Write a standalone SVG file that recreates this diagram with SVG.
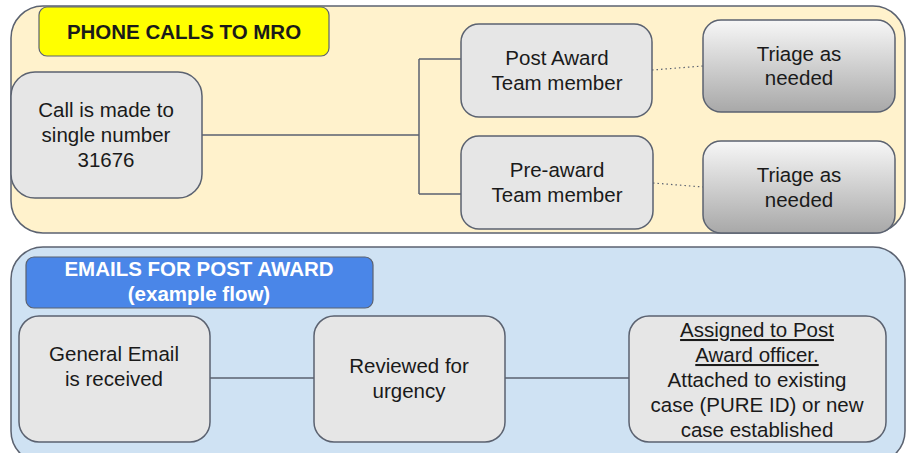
<svg xmlns="http://www.w3.org/2000/svg" width="906" height="453" viewBox="0 0 906 453">
<style>
text{font-family:"Liberation Sans",Arial,sans-serif;font-size:20.5px;fill:#1a1a1a;text-anchor:middle}
.b{font-weight:bold}
.w{fill:#ffffff}
.box{fill:#e6e6e6;stroke:#5b6270;stroke-width:1.5}
.tri{fill:url(#g);stroke:#5b6270;stroke-width:1.5}
.ln{fill:none;stroke:#5b6270;stroke-width:1.5}
.dot{fill:none;stroke:#5b6270;stroke-width:1.2;stroke-dasharray:1.5 3}
.u{text-decoration:underline}
</style>
<defs>
<linearGradient id="g" x1="0" y1="0" x2="0" y2="1">
<stop offset="0" stop-color="#f7f7f7"/>
<stop offset="1" stop-color="#a8a8a8"/>
</linearGradient>
</defs>
<rect width="906" height="453" fill="#ffffff"/>
<g id="phone-section">
<rect x="11" y="6" width="894" height="227" rx="32" fill="#fff2cc" stroke="#5b6270" stroke-width="1.5"/>
</g>
<g id="email-section">
<rect x="11" y="247" width="894" height="216" rx="32" fill="#cfe2f3" stroke="#5b6270" stroke-width="1.5"/>
</g>
<g id="connectors">
<path class="ln" d="M202 135 H419 M419 59 V194 M419 59 H461 M419 194 H461"/>
<path class="dot" d="M652 70 L703 66"/>
<path class="dot" d="M653 183 L703 187"/>
<path class="ln" d="M210 378 H314 M505 378 H629"/>
</g>
<g id="phone-title">
<rect x="39" y="7" width="290" height="49" rx="8" fill="#ffff00" stroke="#5b6270" stroke-width="1.2"/>
<text class="b" x="184" y="39">PHONE CALLS TO MRO</text>
</g>
<g id="call">
<rect class="box" x="11" y="72" width="191" height="126" rx="24"/>
<text x="106" y="117">Call is made to</text>
<text x="106" y="142">single number</text>
<text x="106" y="167">31676</text>
</g>
<g id="post-award">
<rect class="box" x="461" y="24" width="191" height="93" rx="18"/>
<text x="557" y="65">Post Award</text>
<text x="557" y="90">Team member</text>
</g>
<g id="pre-award">
<rect class="box" x="461" y="136" width="192" height="93" rx="18"/>
<text x="557" y="177">Pre-award</text>
<text x="557" y="202">Team member</text>
</g>
<g id="triage-1">
<rect class="tri" x="703" y="20" width="192" height="92" rx="18"/>
<text x="799" y="61">Triage as</text>
<text x="799" y="85">needed</text>
</g>
<g id="triage-2">
<rect class="tri" x="703" y="141" width="192" height="92" rx="18"/>
<text x="799" y="182">Triage as</text>
<text x="799" y="207">needed</text>
</g>
<g id="email-title">
<rect x="26" y="257" width="347" height="51" rx="8" fill="#4a86e8" stroke="#5b6270" stroke-width="1.2"/>
<text class="b w" x="199" y="276">EMAILS FOR POST AWARD</text>
<text class="b w" x="199" y="301">(example flow)</text>
</g>
<g id="general-email">
<rect class="box" x="19" y="316" width="191" height="126" rx="20"/>
<text x="114" y="361">General Email</text>
<text x="114" y="386">is received</text>
</g>
<g id="reviewed">
<rect class="box" x="314" y="316" width="191" height="126" rx="20"/>
<text x="409" y="373">Reviewed for</text>
<text x="409" y="398">urgency</text>
</g>
<g id="assigned">
<rect class="box" x="629" y="316" width="257" height="126" rx="20"/>
<text class="u" x="757" y="337">Assigned to Post</text>
<text class="u" x="757" y="362">Award officer.</text>
<text x="757" y="387">Attached to existing</text>
<text x="757" y="412">case (PURE ID) or new</text>
<text x="757" y="437">case established</text>
</g>
</svg>
